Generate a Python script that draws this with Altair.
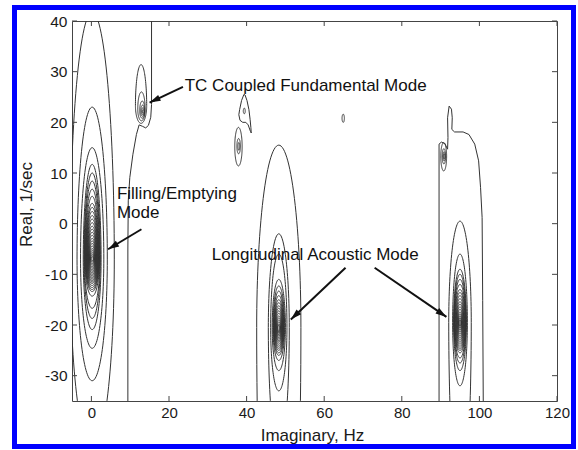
import math
import numpy as np
import pandas as pd
import altair as alt

W, H = 485, 380
XD = [-5, 120]
YD = [-35, 40]
FONT = "Liberation Sans"

# ---- closed contour rings: centre x, widest-level y, top y, bottom y, half width
fill_cx = 0.2
fill_cy = -7.0
fill_top = [41.8, 23, 15, 11.7, 10, 8.4, 6.8, 5.4, 4.0,
            3.2, 2.4, 1.6, 0.9, 0.2, -0.5, -1.1, -1.7, -2.3, -2.9, -3.4, -3.9, -4.4, -4.9, -5.3, -5.7, -6.1, -6.5]
fill_bot = [-44.6, -31, -24.6, -20.9, -18.7, -16.7, -14.3, -13.4, -13.0,
            -12.6, -12.2, -11.8, -11.5, -11.2, -10.9, -10.6, -10.3, -10.0, -9.7, -9.4, -9.1, -8.8, -8.5, -8.2, -7.9, -7.6, -7.3]
fill_w = [5.7, 3.9, 3.0, 2.3, 2.1, 2.0, 1.9, 1.8, 1.72,
          1.65, 1.6, 1.52, 1.45, 1.38, 1.3, 1.22, 1.14, 1.06, 0.98, 0.9, 0.82, 0.74, 0.66, 0.56, 0.46, 0.36, 0.25]

lon1_cx = 48.3
lon1_cy = -20.5
lon1_top = [15.5, -2, -6, -11, -12.3, -13.3, -14.2,
            -15.0, -15.6, -16.2, -16.7, -17.2, -17.7, -18.2, -18.6, -19.0, -19.4, -19.8, -20.1]
lon1_bot = [-90, -45, -33, -29, -27, -26, -25.5,
            -25.0, -24.6, -24.2, -23.8, -23.4, -23.1, -22.8, -22.5, -22.2, -21.9, -21.6, -21.3]
lon1_w = [5.7, 2.7, 2.1, 1.7, 1.5, 1.38, 1.28,
          1.2, 1.12, 1.04, 0.96, 0.88, 0.8, 0.72, 0.62, 0.52, 0.42, 0.32, 0.22]

lon2_cx = 95.0
lon2_cy = -19.5
lon2_top = [0.5, -6, -9, -10, -11, -12,
            -13.0, -13.6, -14.2, -14.8, -15.4, -15.9, -16.4, -16.9, -17.4, -17.8, -18.2, -18.6, -19.0]
lon2_bot = [-55, -32, -29, -27.5, -26.5, -25.5,
            -25.0, -24.6, -24.2, -23.8, -23.4, -23.0, -22.6, -22.2, -21.8, -21.4, -21.0, -20.6, -20.2]
lon2_w = [2.9, 1.9, 1.65, 1.55, 1.5, 1.45,
          1.4, 1.3, 1.2, 1.1, 1.0, 0.9, 0.8, 0.7, 0.6, 0.5, 0.4, 0.3, 0.2]

tc_cx = [12.8, 12.9, 13.1, 13.2, 13.3, 13.35]
tc_cy = [23.3, 22.6, 22.3, 22.2, 22.2, 22.1]
tc_top = [31.4, 26.0, 24.2, 23.4, 22.9, 22.5]
tc_bot = [19.8, 20.3, 20.8, 21.2, 21.5, 21.8]
tc_w = [1.45, 0.95, 0.65, 0.48, 0.34, 0.2]

small_cx = [37.9, 37.95, 38.0, 39.4, 64.9, 90.8, 90.85, 90.9, 90.9]
small_cy = [15.2, 15.3, 15.3, 22.2, 20.8, 13.3, 13.3, 13.3, 13.3]
small_top = [19.0, 16.8, 16.0, 22.8, 21.6, 16.0, 14.8, 14.2, 13.8]
small_bot = [11.4, 13.8, 14.5, 21.7, 20.0, 10.4, 11.8, 12.4, 12.8]
small_w = [0.95, 0.45, 0.22, 0.25, 0.3, 0.75, 0.45, 0.3, 0.18]

# ---- open / irregular contour lines
r1_x = [89.6, 89.6, 90.2, 91.1, 91.8, 91.9, 91.8, 92.2, 92.8, 93.0, 92.9, 93.6, 95.8, 97.3, 98.8, 99.8, 100.3, 100.7, 100.85, 101.0]
r1_y = [-36, 15.7, 16.1, 15.8, 14.7, 17.0, 20.9, 23.2, 22.6, 20.9, 18.6, 18.1, 18.1, 17.6, 15.7, 12.4, 7.1, 1.2, -15.2, -36]

tcl_x = [15.5, 15.5, 15.3, 14.7, 14.0, 13.2, 12.3, 11.6, 10.7, 9.9, 9.5, 9.4, 9.4]
tcl_y = [41, 23.5, 21.0, 19.4, 18.9, 19.2, 19.5, 17.6, 13.7, 9.1, 4.5, -5, -36]

tear_x = [39.3, 38.7, 38.2, 38.0, 38.3, 39.0, 39.8, 40.4, 41.0, 41.2, 41.1, 40.9, 40.6, 40.1, 39.6, 39.3]
tear_y = [25.5, 24.3, 22.5, 21.5, 20.4, 20.0, 20.0, 19.5, 18.2, 17.9, 19.0, 20.6, 22.5, 24.3, 25.4, 25.5]

# ---- ticks
x_ticks = [0, 20, 40, 60, 80, 100, 120]
y_ticks = [-30, -20, -10, 0, 10, 20, 30, 40]

# ---- annotations
ann_text = ["TC Coupled Fundamental Mode", "Filling/Emptying", "Mode", "Longitudinal Acoustic Mode"]
ann_x = [24.05, 6.57, 6.57, 31.0]
ann_y = [26.2, 4.87, 1.12, -7.26]

arr_x0 = [23.6, 12.9, 65.5, 73.0]
arr_y0 = [27.0, -1.1, -8.7, -8.7]
arr_x1 = [15.0, 4.3, 51.4, 91.5]
arr_y1 = [23.9, -5.05, -18.9, -18.4]

# ---- build outline table
rows = []
gid = 0
t = np.linspace(0, 2 * np.pi, 121)


def add_ring(cx, cy, top, bot, w):
    global gid
    s = np.sin(t)
    yy = np.where(s >= 0, cy + (top - cy) * s, cy + (cy - bot) * s)
    xx = cx + w * np.cos(t)
    for i, (a, b) in enumerate(zip(xx, yy)):
        rows.append({"x": float(a), "y": float(b), "o": i, "g": gid})
    gid += 1


def add_path(px, py):
    global gid
    for i, (a, b) in enumerate(zip(px, py)):
        rows.append({"x": a, "y": b, "o": i, "g": gid})
    gid += 1


for tp, bt, w in zip(fill_top, fill_bot, fill_w):
    add_ring(fill_cx, fill_cy, tp, bt, w)
for tp, bt, w in zip(lon1_top, lon1_bot, lon1_w):
    add_ring(lon1_cx, lon1_cy, tp, bt, w)
for tp, bt, w in zip(lon2_top, lon2_bot, lon2_w):
    add_ring(lon2_cx, lon2_cy, tp, bt, w)
for cx, cy, tp, bt, w in zip(tc_cx, tc_cy, tc_top, tc_bot, tc_w):
    add_ring(cx, cy, tp, bt, w)
for cx, cy, tp, bt, w in zip(small_cx, small_cy, small_top, small_bot, small_w):
    add_ring(cx, cy, tp, bt, w)
add_path(r1_x, r1_y)
add_path(tcl_x, tcl_y)
add_path(tear_x, tear_y)

contours = pd.DataFrame(rows)

xs = alt.Scale(domain=XD, nice=False, zero=False)
ys = alt.Scale(domain=YD, nice=False, zero=False)

x_axis = alt.Axis(values=x_ticks, ticks=False, domain=False, grid=False, labelFlush=False,
                  labelFont=FONT, labelFontSize=15, labelColor="#1a1a1a", labelPadding=4,
                  labelExpr="'' + datum.value",
                  title="Imaginary, Hz", titleFont=FONT, titleFontSize=17, titleFontWeight="normal",
                  titleColor="#1a1a1a", titleX=240, titleY=39, titleBaseline="alphabetic", titleAlign="center")
y_axis = alt.Axis(values=y_ticks, ticks=False, domain=False, grid=False, labelFlush=False,
                  labelFont=FONT, labelFontSize=15.5, labelColor="#1a1a1a", labelPadding=5,
                  labelExpr="'' + datum.value",
                  title="Real, 1/sec", titleFont=FONT, titleFontSize=17, titleFontWeight="normal",
                  titleColor="#1a1a1a", titleX=-46, titleY=183, titleAngle=270,
                  titleBaseline="middle", titleAlign="center")


def X(f):
    return alt.X(f, scale=xs, axis=x_axis)


def Y(f):
    return alt.Y(f, scale=ys, axis=y_axis)


lines = alt.Chart(contours).mark_line(clip=True, color="#333333", strokeWidth=1).encode(
    x=X("x:Q"), y=Y("y:Q"), detail="g:N", order="o:Q")

xt = pd.DataFrame({"x": x_ticks})
yt = pd.DataFrame({"y": y_ticks})
tick_style = dict(color="#444444", strokeWidth=1)
xt_bot = alt.Chart(xt).mark_rule(**tick_style).encode(x=X("x:Q"), y=alt.value(H), y2=alt.value(H - 5))
xt_top = alt.Chart(xt).mark_rule(**tick_style).encode(x=X("x:Q"), y=alt.value(0), y2=alt.value(5))
yt_left = alt.Chart(yt).mark_rule(**tick_style).encode(y=Y("y:Q"), x=alt.value(0), x2=alt.value(5))
yt_right = alt.Chart(yt).mark_rule(**tick_style).encode(y=Y("y:Q"), x=alt.value(W), x2=alt.value(W - 5))

ann = pd.DataFrame({"t": ann_text, "x": ann_x, "y": ann_y})
texts = alt.Chart(ann).mark_text(align="left", baseline="alphabetic", font=FONT,
                                 fontSize=17, color="#111111").encode(
    x=X("x:Q"), y=Y("y:Q"), text="t:N")

angles = []
for a0, b0, a1, b1 in zip(arr_x0, arr_y0, arr_x1, arr_y1):
    dx = (a1 - a0) * W / (XD[1] - XD[0])
    dy = -(b1 - b0) * H / (YD[1] - YD[0])
    angles.append(math.degrees(math.atan2(dx, -dy)) % 360)
arr = pd.DataFrame({"x": arr_x0, "y": arr_y0, "x1": arr_x1, "y1": arr_y1, "ang": angles})

shafts = alt.Chart(arr).mark_rule(color="#111111", strokeWidth=2).encode(
    x=X("x:Q"), y=Y("y:Q"), x2="x1:Q", y2="y1:Q")
heads = alt.Chart(arr).mark_point(shape="M0,0 L0.6,2 L-0.6,2 Z", filled=True, color="#111111",
                                  opacity=1, size=121, strokeWidth=0).encode(
    x=X("x1:Q"), y=Y("y1:Q"), angle=alt.Angle("ang:Q", scale=None))

frame = alt.Chart(alt.Data(values=[{"k": 1}])).mark_rect(
    fillOpacity=0, stroke="#0000ff", strokeWidth=5, clip=False).encode(
    x=alt.value(-57.5), x2=alt.value(501.5), y=alt.value(-13.5), y2=alt.value(425.5))

chart = alt.layer(lines, xt_bot, xt_top, yt_left, yt_right, shafts, heads, texts, frame).properties(
    width=W, height=H,
    autosize=alt.AutoSizeParams(type="none"),
    padding={"left": 72, "top": 21, "right": 21, "bottom": 49},
    background="white",
).configure_view(stroke="#444444", strokeWidth=1)

chart.save("out.html", embed_options={"renderer": "svg", "actions": False})
